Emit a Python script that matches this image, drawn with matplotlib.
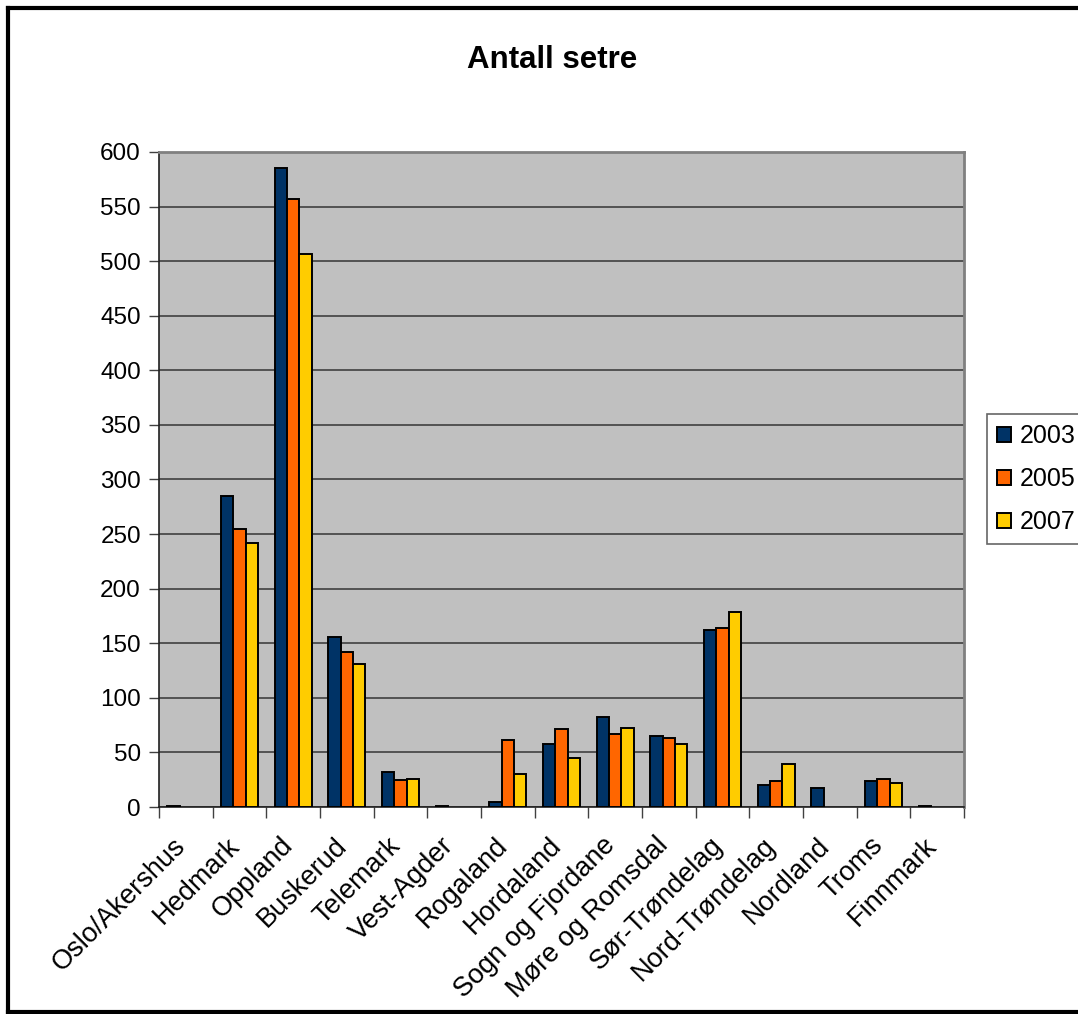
import matplotlib
matplotlib.use("Agg")
import matplotlib.pyplot as plt
import numpy as np
from matplotlib.lines import Line2D

plt.rcParams['font.family'] = ['Liberation Sans', 'DejaVu Sans']

fylker = ["Oslo/Akershus", "Hedmark", "Oppland", "Buskerud", "Telemark",
          "Vest-Agder", "Rogaland", "Hordaland", "Sogn og Fjordane",
          "Møre og Romsdal", "Sør-Trøndelag", "Nord-Trøndelag", "Nordland",
          "Troms", "Finnmark"]
setre_2003 = [1, 285, 585, 156, 32, 1, 5, 58, 82, 65, 162, 20, 17, 24, 1]
setre_2005 = [0, 255, 557, 142, 25, 0, 61, 71, 67, 63, 164, 24, 0, 26, 0]
setre_2007 = [0, 242, 507, 131, 26, 0, 30, 45, 72, 58, 179, 39, 0, 22, 0]
years = ["2003", "2005", "2007"]
yticks = [0, 50, 100, 150, 200, 250, 300, 350, 400, 450, 500, 550, 600]

colors = ["#003366", "#FF6600", "#FFCC00"]
series = [setre_2003, setre_2005, setre_2007]

W, H = 1078, 1014
fig = plt.figure(figsize=(W / 100, H / 100), dpi=100)
ax = fig.add_axes([159 / W, 1 - 807 / H, (964 - 159) / W, (807 - 152) / H])
ax.set_facecolor("#C0C0C0")

x = np.arange(len(fylker))
bw = 0.23
for i, (vals, col, yr) in enumerate(zip(series, colors, years)):
    vals = np.asarray(vals, dtype=float)
    mask = vals > 0
    ax.bar(x[mask] + (i - 1) * bw, vals[mask], width=bw, color=col,
           edgecolor="black", linewidth=1.4, zorder=3, label=yr)

ax.set_xlim(-0.5, len(fylker) - 0.5)
ax.set_ylim(0, 600)
ax.set_yticks(yticks)
ax.set_yticklabels([str(v) for v in yticks], fontsize=17.5)
ax.yaxis.grid(True, color="#404040", linewidth=1.2, zorder=1)
ax.tick_params(axis="y", direction="out", length=7, width=1, color="#404040", pad=6)

# Tick marks between categories, labels at category centres
ax.set_xticks(np.arange(-0.5, len(fylker)), minor=True)
ax.set_xticks(x)
ax.set_xticklabels([])
ax.tick_params(axis="x", which="minor", direction="out", length=8, width=1, color="#404040")
ax.tick_params(axis="x", which="major", length=0)

for xi, name in zip(x, fylker):
    ax.annotate(name, xy=(xi, 0), xycoords=("data", "axes fraction"),
                xytext=(-3, -25), textcoords="offset points",
                rotation=45, rotation_mode="anchor", ha="right", va="center",
                fontsize=19.5)

for side in ["top", "right"]:
    ax.spines[side].set_color("#808080")
    ax.spines[side].set_linewidth(2)
for side in ["left", "bottom"]:
    ax.spines[side].set_color("#202020")
    ax.spines[side].set_linewidth(1.2)

fig.text(552 / W, 1 - 60 / H, "Antall setre", ha="center", va="center",
         fontsize=22.5, fontweight="bold")

leg = fig.legend(loc="upper left", bbox_to_anchor=(987 / W, 1 - 414 / H),
                 fontsize=18, frameon=True, fancybox=False,
                 handlelength=0.55, handleheight=0.55, handletextpad=0.35,
                 labelspacing=0.76, borderpad=0.4, borderaxespad=0)
leg.get_frame().set_edgecolor("#404040")
leg.get_frame().set_linewidth(1.2)

# Outer chart border
lw = 3
fig.add_artist(Line2D([8 / W, 8 / W], [2 / H, 1 - 8 / H], color="black", lw=lw))
fig.add_artist(Line2D([8 / W, 1.01], [1 - 8 / H, 1 - 8 / H], color="black", lw=lw))
fig.add_artist(Line2D([8 / W, 1.01], [2 / H, 2 / H], color="black", lw=lw))

fig.savefig("out.png", dpi=100)
